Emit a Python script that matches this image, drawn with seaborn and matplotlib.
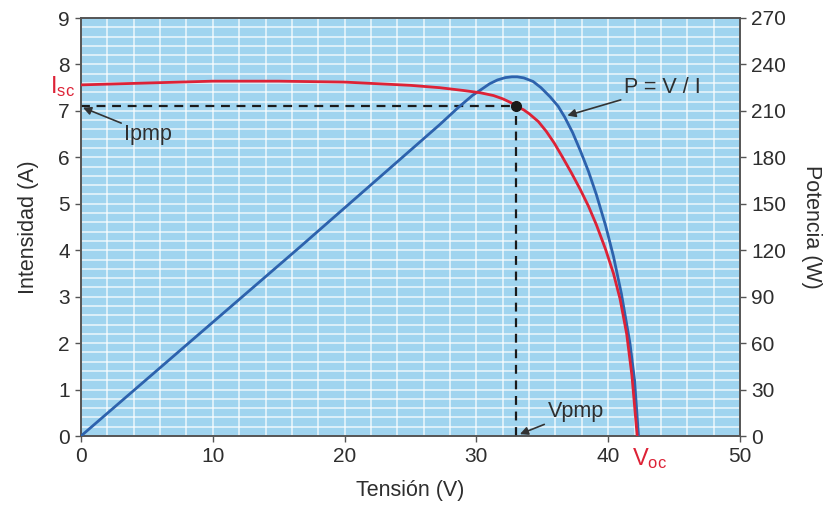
import numpy as np
import pandas as pd
import matplotlib
matplotlib.use("Agg")
import matplotlib.pyplot as plt
import seaborn as sns

# Curva I-V (intensidad, eje izquierdo)
iv_voltage = [0, 5, 10, 15, 20, 25, 27.2, 29.0, 30.3, 31.3, 32.0, 32.6, 33.06, 33.6, 34.0, 34.7,
              35.3, 35.9, 36.5, 37.2, 37.86, 38.5, 39.1, 39.8, 40.4, 40.9, 41.4, 41.8, 42.2]
iv_current = [7.56, 7.60, 7.64, 7.64, 7.62, 7.55, 7.50, 7.44, 7.39, 7.33, 7.26, 7.18, 7.10, 7.02, 6.94, 6.77,
              6.56, 6.31, 6.02, 5.67, 5.32, 4.95, 4.55, 4.02, 3.50, 2.95, 2.20, 1.30, 0.0]

# Curva P-V (potencia, eje derecho)
pv_voltage = [0, 16.6, 27.2, 28.6, 29.7, 30.4, 31.0, 31.6, 32.2, 32.7, 33.1, 33.6, 34.3, 34.9, 35.6,
              36.2, 36.7, 37.3, 37.9, 38.5, 39.1, 39.8, 40.4, 41.0, 41.65, 42.0, 42.3]
pv_power = [0, 122, 201, 212, 220, 224, 227.5, 230, 231.5, 232, 232, 231.3, 229, 225, 219,
            213, 206, 196, 184, 171, 156, 136, 116, 92, 60, 36, 0]

# Punto de maxima potencia
v_pmp = 33.0
i_pmp = 7.1

x_ticks = [0, 10, 20, 30, 40, 50]
y_ticks = list(range(0, 10))
p_ticks = list(range(0, 271, 30))

RED = "#dd2236"
BLUE = "#2d62ad"
BG = "#a0d4ef"
TXT = "#2e2e2e"

sns.set_theme(style="ticks")
plt.rcParams["font.family"] = ["Liberation Sans", "DejaVu Sans"]

iv = pd.DataFrame({"V": iv_voltage, "I": iv_current})
pv = pd.DataFrame({"V": pv_voltage, "P": pv_power})

fig = plt.figure(figsize=(8.36, 5.12), dpi=100)
ax = fig.add_axes([81 / 836, 1 - 436 / 512, (740 - 81) / 836, (436 - 18) / 512])
ax.set_facecolor(BG)

ax.set_xlim(0, 50)
ax.set_ylim(0, 9)

# rejilla fina blanca
for v in np.arange(2, 50, 2):
    ax.axvline(v, color="white", lw=1.1, alpha=0.8, zorder=0.5)
for y in np.arange(0.2, 9, 0.2):
    ax.axhline(y, color="white", lw=1.1, alpha=0.8, zorder=0.5)

# lineas de trazos al punto de maxima potencia
ax.plot([0, v_pmp], [i_pmp, i_pmp], ls=(0, (4, 3)), color="#1a1a1a", lw=1.6, zorder=3)
ax.plot([v_pmp, v_pmp], [0, i_pmp], ls=(0, (4, 3)), color="#1a1a1a", lw=1.6, zorder=3)

ax2 = ax.twinx()
ax2.set_ylim(0, 270)
sns.lineplot(data=pv, x="V", y="P", ax=ax2, color=BLUE, lw=2.0, sort=False, zorder=3)
ax2.set_zorder(ax.get_zorder() + 1)
ax2.patch.set_visible(False)

sns.lineplot(data=iv, x="V", y="I", ax=ax2, color=RED, lw=2.0, sort=False, zorder=4,
             transform=ax.transData)
ax2.plot([v_pmp], [i_pmp], "o", color="#1a1a1a", ms=7, transform=ax.transData, zorder=5)

ax.set_xticks(x_ticks)
ax.set_yticks(y_ticks)
ax2.set_yticks(p_ticks)
for a in (ax, ax2):
    a.tick_params(colors="#555555", labelcolor=TXT, labelsize=15, length=4, width=1, pad=4)
    for s in a.spines.values():
        s.set_color("#555555")
        s.set_linewidth(1.2)

ax.set_xlabel("Tensión (V)", fontsize=15.5, color=TXT, labelpad=10)
ax.set_ylabel("Intensidad (A)", fontsize=15.5, color=TXT, labelpad=14)
ax2.set_ylabel("Potencia (W)", fontsize=15.5, color=TXT, rotation=270, labelpad=26)

arrow = dict(arrowstyle="-|>", color="#333333", lw=1.2, mutation_scale=12, shrinkA=0, shrinkB=0)
ax.annotate("Ipmp", xy=(0.15, 7.07), xytext=(3.3, 6.5), fontsize=15.5, color=TXT,
            ha="left", va="center", arrowprops=arrow, zorder=6)
ax.annotate("P = V / I", xy=(36.9, 6.9), xytext=(41.2, 7.5), fontsize=15.5, color=TXT,
            ha="left", va="center", arrowprops=arrow, zorder=6)
ax.annotate("Vpmp", xy=(33.3, 0.04), xytext=(35.4, 0.52), fontsize=15.5, color=TXT,
            ha="left", va="center", arrowprops=arrow, zorder=6)

ax.text(-0.45, 7.52, r"$\mathregular{I_{sc}}$", color=RED, fontsize=17,
        ha="right", va="center", clip_on=False)
ax.text(41.8, -0.22, r"$\mathregular{V_{oc}}$", color=RED, fontsize=17,
        ha="left", va="top", clip_on=False)

fig.savefig("out.png", dpi=100)
